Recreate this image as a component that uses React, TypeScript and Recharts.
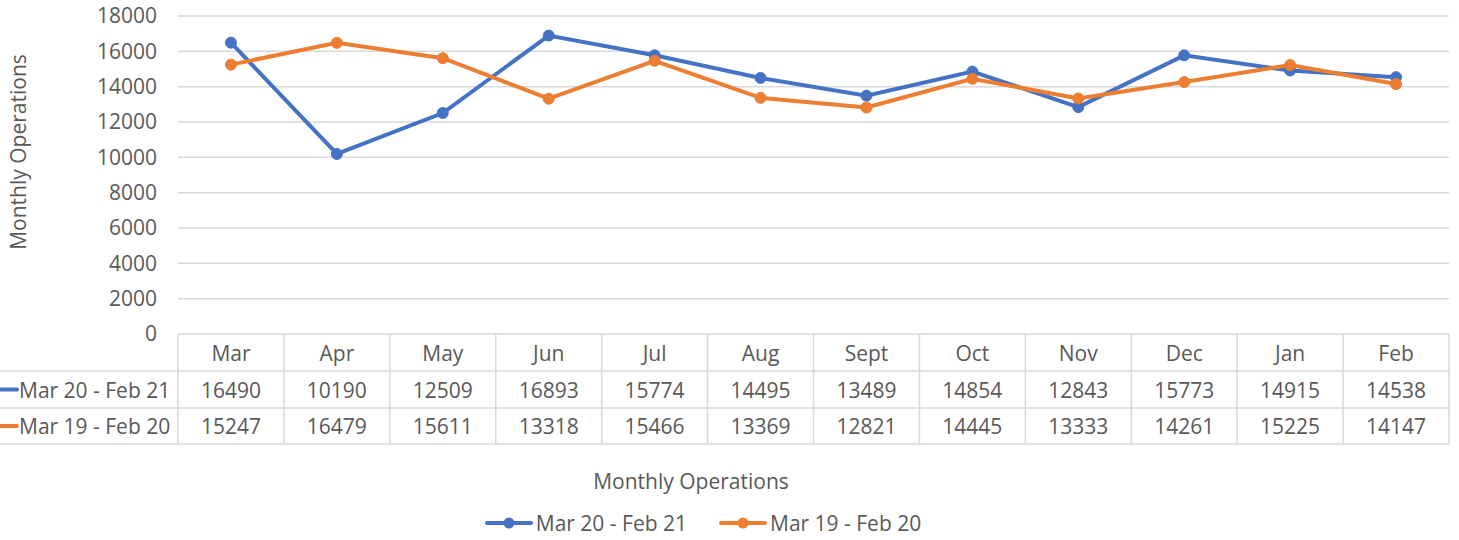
import { LineChart, Line, XAxis, YAxis, CartesianGrid } from "recharts";

const months = ["Mar", "Apr", "May", "Jun", "Jul", "Aug", "Sept", "Oct", "Nov", "Dec", "Jan", "Feb"];
const ops2021 = [16490, 10190, 12509, 16893, 15774, 14495, 13489, 14854, 12843, 15773, 14915, 14538];
const ops1920 = [15247, 16479, 15611, 13318, 15466, 13369, 12821, 14445, 13333, 14261, 15225, 14147];
const seriesNames = ["Mar 20 - Feb 21", "Mar 19 - Feb 20"];
const yTicks = [0, 2000, 4000, 6000, 8000, 10000, 12000, 14000, 16000, 18000];
const axisTitle = "Monthly Operations";

const BLUE = "#4472C4";
const ORANGE = "#ED7D31";
const TEXT = "#595959";
const GRID = "#d9d9d9";
const FONT = "'Open Sans', sans-serif";
const FS = 21;

const W = 1459;
const H = 540;
const Y_AXIS_W = 178;
const RIGHT = 10;
const colW = (W - Y_AXIS_W - RIGHT) / months.length;
const rows = [37, 37, 36];

const data = months.map((m, i) => ({ month: m, a: ops2021[i], b: ops1920[i] }));
const colors = [BLUE, ORANGE];
const rowValues = [ops2021, ops1920];

function TableTick(props: any) {
  const { x, y, index } = props;
  const label = props.payload.value;
  const left = x - colW / 2;
  const right = x + colW / 2;
  const y1 = y + rows[0];
  const y2 = y1 + rows[1];
  const y3 = y2 + rows[2];
  const lineStyle = { stroke: GRID, strokeWidth: 1.5 };
  return (
    <g>
      <line x1={left} y1={y} x2={left} y2={y3} {...lineStyle} />
      {index === months.length - 1 && <line x1={right} y1={y} x2={right} y2={y3} {...lineStyle} />}
      <line x1={index === 0 ? 0 : left} y1={y1} x2={right} y2={y1} {...lineStyle} />
      <line x1={index === 0 ? 0 : left} y1={y2} x2={right} y2={y2} {...lineStyle} />
      <line x1={index === 0 ? 0 : left} y1={y3} x2={right} y2={y3} {...lineStyle} />
      <text x={x} y={y + rows[0] / 2} textAnchor="middle" dominantBaseline="central" fill={TEXT} fontSize={FS} fontFamily={FONT}>
        {label}
      </text>
      {rowValues.map((vals, r) => (
        <text
          key={r}
          x={x}
          y={(r === 0 ? y1 : y2) + rows[r + 1] / 2}
          textAnchor="middle"
          dominantBaseline="central"
          fill={TEXT}
          fontSize={FS}
          fontFamily={FONT}
        >
          {vals[index]}
        </text>
      ))}
      {index === 0 &&
        seriesNames.map((name, r) => {
          const cy = (r === 0 ? y1 : y2) + rows[r + 1] / 2;
          return (
            <g key={name}>
              <line x1={0} y1={cy} x2={17} y2={cy} stroke={colors[r]} strokeWidth={4} strokeLinecap="round" />
              <text x={19} y={cy} dominantBaseline="central" fill={TEXT} fontSize={FS} fontFamily={FONT}>
                {name}
              </text>
            </g>
          );
        })}
    </g>
  );
}

function LegendKey({ color, name }: { color: string; name: string }) {
  return (
    <div style={{ display: "flex", alignItems: "center", marginRight: 32 }}>
      <svg width={48} height={14}>
        <line x1={2} y1={7} x2={46} y2={7} stroke={color} strokeWidth={4} strokeLinecap="round" />
        <circle cx={24} cy={7} r={5.5} fill={color} />
      </svg>
      <span style={{ marginLeft: 3 }}>{name}</span>
    </div>
  );
}

export default function App() {
  return (
    <div style={{ position: "absolute", left: 0, top: 0, width: W, height: H, background: "#fff", fontFamily: FONT, color: TEXT }}>
      <LineChart width={W} height={H} data={data} margin={{ top: 16, right: RIGHT, bottom: 96, left: 0 }}>
        <CartesianGrid vertical={false} stroke={GRID} strokeWidth={1.5} />
        <YAxis
          width={Y_AXIS_W}
          domain={[0, 18000]}
          ticks={yTicks}
          axisLine={false}
          tickLine={false}
          tickSize={0}
          tickMargin={21}
          tick={{ fill: TEXT, fontSize: FS, fontFamily: FONT }}
          label={(p: any) => {
            const vb = p.viewBox;
            const cx = vb.x + 18;
            const cy = vb.y + 136;
            return (
              <text x={cx} y={cy} transform={`rotate(-90 ${cx} ${cy})`} textAnchor="middle" dominantBaseline="central" fill={TEXT} fontSize={FS} fontFamily={FONT}>
                {axisTitle}
              </text>
            );
          }}
        />
        <XAxis
          dataKey="month"
          scale="band"
          height={110}
          axisLine={false}
          tickLine={false}
          tickSize={0}
          tickMargin={0}
          interval={0}
          tick={TableTick}
        />
        <Line
          type="linear"
          dataKey="a"
          name={seriesNames[0]}
          stroke={BLUE}
          strokeWidth={4}
          dot={{ r: 5.5, fill: BLUE, stroke: BLUE, strokeWidth: 1 }}
          activeDot={false}
          isAnimationActive={false}
        />
        <Line
          type="linear"
          dataKey="b"
          name={seriesNames[1]}
          stroke={ORANGE}
          strokeWidth={4}
          dot={{ r: 5.5, fill: ORANGE, stroke: ORANGE, strokeWidth: 1 }}
          activeDot={false}
          isAnimationActive={false}
        />
      </LineChart>
      <div style={{ position: "absolute", left: 0, top: 467, width: 1382, textAlign: "center", fontSize: FS, lineHeight: "28px" }}>
        {axisTitle}
      </div>
      <div style={{ position: "absolute", left: 0, top: 509, width: 1438, display: "flex", justifyContent: "center", fontSize: FS, lineHeight: "28px" }}>
        <LegendKey color={BLUE} name={seriesNames[0]} />
        <LegendKey color={ORANGE} name={seriesNames[1]} />
      </div>
    </div>
  );
}
